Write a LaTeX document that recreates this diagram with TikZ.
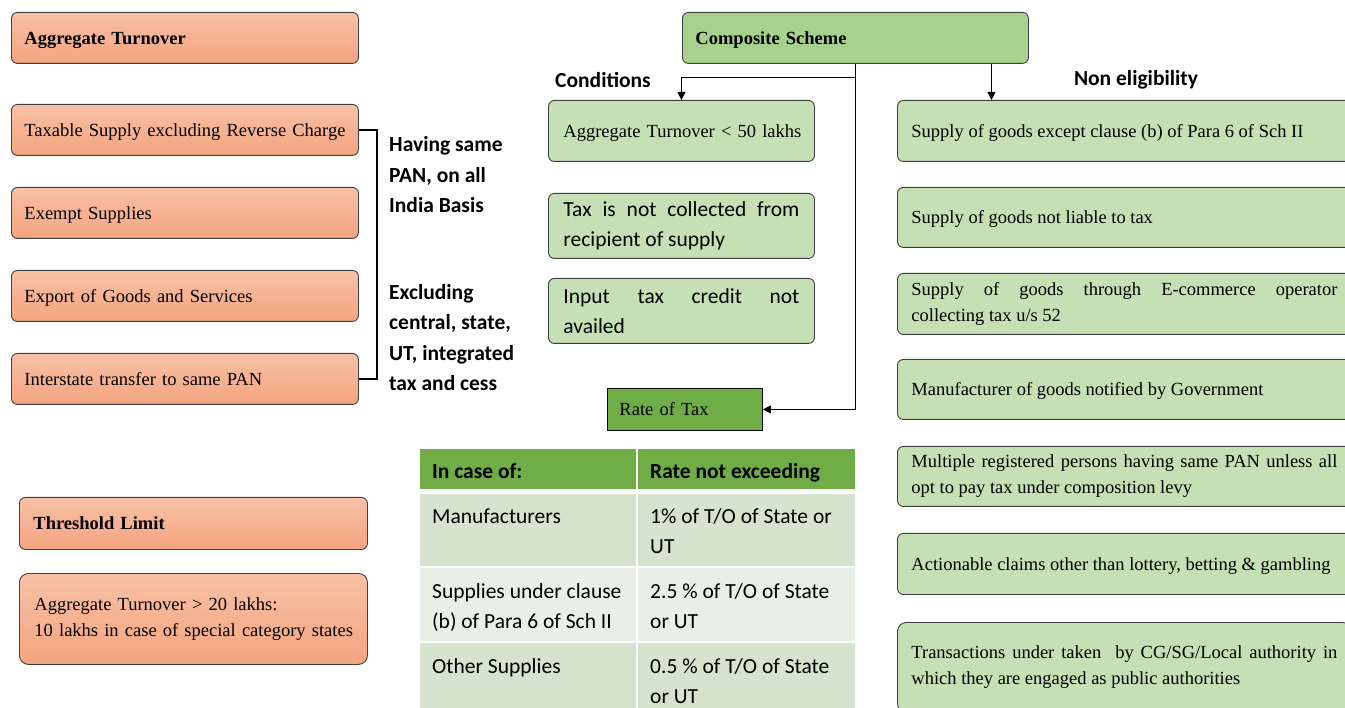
\documentclass[tikz,border=0pt]{standalone}
\usepackage{fontspec}
\setmainfont{Liberation Serif}
\newfontfamily\carlito{Carlito}
\usetikzlibrary{arrows.meta}

\definecolor{orangeTop}{HTML}{F8C1A6}
\definecolor{orangeBot}{HTML}{F4A480}
\definecolor{paleGreen}{HTML}{C5E0B4}
\definecolor{midGreen}{HTML}{A9D18E}
\definecolor{darkGreen}{HTML}{70AD47}
\definecolor{rowA}{HTML}{D5E3CF}
\definecolor{rowB}{HTML}{E9EFE6}
\definecolor{edge}{HTML}{3F3F3F}

\newcommand\serifsz{\fontsize{18.5}{26}\selectfont}
\newcommand\sanssz{\carlito\fontsize{21.5}{30.5}\selectfont}

\tikzset{
  box/.style={draw=edge, line width=0.9pt, rounded corners=6pt, anchor=north west,
    inner xsep=13pt, inner ysep=0pt, align=left, font=\serifsz},
  oneline/.style={text height=13pt, text depth=0pt},
  obox/.style={box, top color=orangeTop, bottom color=orangeBot},
  gbox/.style={box, fill=paleGreen},
  nbox/.style={gbox, inner xsep=14pt, minimum width=454pt, text width=426pt, align=justify},
  cbox/.style={gbox, inner xsep=15pt, minimum width=266pt, text width=236pt, align=justify},
  lbox/.style={obox, oneline, minimum width=347pt, text width=321pt, minimum height=51pt},
  label/.style={font=\sanssz\bfseries, inner sep=0pt, align=left},
  cell/.style={font=\sanssz, inner sep=0pt, anchor=north west, align=left},
  conn/.style={draw=black, line width=1pt},
  arr/.style={conn, -{Triangle[length=8pt,width=8pt]}},
}

\begin{document}
\begin{tikzpicture}[x=1pt, y=-1pt]
\useasboundingbox (0,0) rectangle (1345,708);
\clip (0,0) rectangle (1345,708);

% turnover components
\node[lbox] (agg) at (11,12) {\textbf{Aggregate Turnover}};
\node[lbox] (taxable) at (11,104) {Taxable Supply excluding Reverse Charge};
\node[lbox] (exempt) at (11,187) {Exempt Supplies};
\node[lbox] (export) at (11,270) {Export of Goods and Services};
\node[lbox] (inter) at (11,353) {Interstate transfer to same PAN};

\draw[conn, line width=1.3pt] (taxable.east) -- ++(18,0) |- (inter.east);

\node[label, anchor=west] (pan) at (389,175) {Having same\\PAN, on all\\India Basis};
\node[label, anchor=west] (excl) at (389,337.5) {Excluding\\central, state,\\UT, integrated\\tax and cess};

% threshold
\node[obox, oneline, inner xsep=14pt, minimum width=348pt, text width=320pt, minimum height=52pt]
  (thr) at (19,497) {\textbf{Threshold Limit}};
\node[obox, inner xsep=15pt, minimum width=348pt, text width=318pt, minimum height=91pt, rounded corners=9pt]
  (thrval) at (19,573) {Aggregate Turnover > 20 lakhs:\\\mbox{10 lakhs in case of special category states}};

% composite scheme
\node[box, oneline, fill=midGreen, minimum width=346pt, text width=320pt, minimum height=51pt]
  (comp) at (682,12) {\textbf{Composite Scheme}};

\node[label] (condlbl) at (603,80) {Conditions};
\node[label] (nonlbl) at (1136,80) {Non eligibility};

% conditions
\node[cbox, oneline, minimum height=61pt, align=left] (c1) at (548,100) {\mbox{Aggregate Turnover < 50 lakhs}};
\node[cbox, minimum height=65pt, font=\sanssz] (c2) at (548,193) {Tax is not collected from\linebreak recipient of supply};
\node[cbox, minimum height=65pt, font=\sanssz] (c3) at (548,278) {Input tax credit not\linebreak availed};

\node[draw=black, oneline, line width=0.9pt, fill=darkGreen, anchor=north west, inner xsep=12pt, inner ysep=0pt,
  minimum width=155pt, text width=131pt, minimum height=42pt, align=left, font=\serifsz]
  (rate) at (607,388) {Rate of Tax};

% non eligibility
\node[nbox, oneline, minimum height=61pt] (n1) at (897,100) {Supply of goods except clause (b) of Para 6 of Sch II};
\node[nbox, oneline, minimum height=60pt] (n2) at (897,187) {Supply of goods not liable\ to tax};
\node[nbox, minimum height=61pt] (n3) at (897,273) {Supply of goods through E-commerce operator\linebreak collecting\ tax u/s 52};
\node[nbox, oneline, minimum height=60pt] (n4) at (897,359) {Manufacturer of goods notified by Government};
\node[nbox, minimum height=60pt] (n5) at (897,446) {Multiple registered persons having same PAN unless all\linebreak opt to pay tax under composition levy};
\node[nbox, oneline, minimum height=61pt] (n6) at (897,533) {Actionable claims other than lottery, betting \& gambling};
\node[nbox, minimum height=90pt, rounded corners=9pt] (n7) at (897,622) {Transactions under taken\ \ by CG/SG/Local authority in\linebreak which they are engaged as public authorities};

% connectors
\draw[arr] (comp.south) -- ++(0,13.5) -| (c1.north);
\draw[arr] (comp.south) |- (rate.east);
\draw[arr] ([xshift=136pt]comp.south) -- ([xshift=136pt]comp.south |- n1.north);

% rate table
\fill[darkGreen] (420,449) rectangle (636,489);
\fill[darkGreen] (638,449) rectangle (855,489);
\fill[rowA] (420,494) rectangle (636,566);
\fill[rowA] (638,494) rectangle (855,566);
\fill[rowB] (420,568) rectangle (636,641);
\fill[rowB] (638,568) rectangle (855,641);
\fill[rowA] (420,643) rectangle (636,712);
\fill[rowA] (638,643) rectangle (855,712);

\node[cell, font=\sanssz\bfseries] (h1) at (432,456.65) {\strut In case of:};
\node[cell, font=\sanssz\bfseries] (h2) at (650,456.65) {\strut Rate not exceeding};
\node[cell] (r1a) at (432,501.65) {\strut Manufacturers};
\node[cell] (r1b) at (650,501.65) {\strut 1\% of T/O of State or\\UT};
\node[cell] (r2a) at (432,576.65) {\strut Supplies under clause\\(b) of Para 6 of Sch II};
\node[cell] (r2b) at (650,576.65) {\strut 2.5 \% of T/O of State\\or UT};
\node[cell] (r3a) at (432,651.65) {\strut Other Supplies};
\node[cell] (r3b) at (650,651.65) {\strut 0.5 \% of T/O of State\\or UT};
\end{tikzpicture}
\end{document}
